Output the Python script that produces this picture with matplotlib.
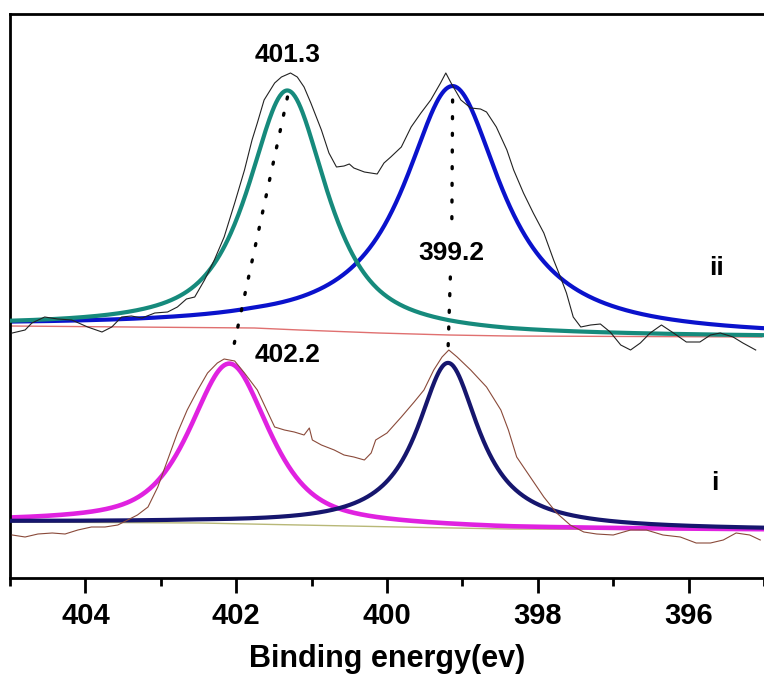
import numpy as np
import matplotlib
matplotlib.use("Agg")
import matplotlib.pyplot as plt
from matplotlib.ticker import MultipleLocator

plt.rcParams['font.family'] = ['Liberation Sans', 'DejaVu Sans']
plt.rcParams['font.weight'] = 'bold'

# ---------------- data (binding energy in eV, intensity in a.u.) ----------------
# spectrum ii (upper) raw
ii_energy = [404.97, 404.80, 404.71, 404.54, 404.37, 404.18, 403.97, 403.78, 403.65, 403.52,
             403.39, 403.25, 403.08, 402.91, 402.78, 402.66, 402.55, 402.42, 402.29, 402.16,
             402.02, 401.89, 401.79, 401.72, 401.63, 401.49, 401.40, 401.28, 401.19, 401.10,
             401.01, 400.87, 400.77, 400.67, 400.57, 400.50, 400.44, 400.30, 400.13, 400.04,
             399.95, 399.81, 399.68, 399.55, 399.42, 399.29, 399.22, 399.15, 399.02, 398.89,
             398.76, 398.68, 398.55, 398.41, 398.32, 398.19, 398.06, 397.92, 397.79, 397.70,
             397.62, 397.53, 397.43, 397.30, 397.17, 397.04, 396.90, 396.77, 396.64, 396.51,
             396.36, 396.20, 396.03, 395.85, 395.71, 395.58, 395.41, 395.28, 395.11]
ii_counts = [245, 248, 255, 261, 259, 258, 251, 246, 251, 261,
             262, 260, 265, 266, 271, 279, 281, 298, 318, 341,
             375, 408, 438, 455, 478, 495, 501, 505, 501, 491,
             475, 448, 425, 411, 412, 414, 410, 406, 404, 415,
             421, 431, 451, 465, 478, 495, 505, 495, 478, 470,
             469, 466, 451, 428, 408, 385, 365, 345, 318, 301,
             285, 261, 251, 253, 254, 246, 233, 228, 235, 245,
             253, 245, 236, 236, 243, 245, 241, 235, 228]
ii_bg_energy = [405.0, 403.41, 401.76, 401.16, 400.11, 399.18, 398.39, 395.03]
ii_bg_counts = [252, 251, 250, 248, 245, 243, 242, 241]

# spectrum i (lower) raw
i_energy = [404.97, 404.80, 404.63, 404.44, 404.27, 404.10, 403.92, 403.74, 403.57, 403.44,
            403.31, 403.17, 403.04, 402.91, 402.78, 402.65, 402.51, 402.38, 402.25, 402.16,
            402.02, 401.89, 401.72, 401.49, 401.36, 401.23, 401.10, 401.03, 400.99, 400.87,
            400.70, 400.57, 400.44, 400.30, 400.21, 400.15, 400.00, 399.81, 399.64, 399.51,
            399.38, 399.27, 399.18, 399.07, 398.89, 398.68, 398.49, 398.39, 398.28, 398.10,
            397.92, 397.75, 397.57, 397.39, 397.22, 397.00, 396.77, 396.56, 396.34, 396.11,
            395.90, 395.71, 395.54, 395.37, 395.19, 395.05]
i_counts = [43, 41, 44, 45, 44, 48, 51, 51, 53, 58,
            63, 71, 91, 118, 145, 168, 188, 205, 215, 219,
            217, 205, 188, 151, 148, 146, 143, 150, 138, 133,
            128, 123, 121, 118, 125, 138, 145, 161, 176, 188,
            208, 221, 228, 221, 208, 191, 168, 148, 121, 101,
            81, 65, 53, 46, 44, 43, 48, 48, 43, 41,
            35, 35, 38, 45, 43, 38]
i_bg_energy = [405.0, 402.49, 401.16, 399.84, 398.39, 395.03]
i_bg_counts = [56, 55, 53, 51, 49, 48]

# fitted components: centre (eV), height, half width (eV), Lorentzian fraction
ii_peak_centre = [401.32, 399.13]
ii_peak_height = [239, 249]
ii_peak_hwhm = [0.62, 0.79]
ii_peak_eta = [0.8, 1.0]

i_peak_centre = [402.09, 399.19]
i_peak_height = [160, 165]
i_peak_hwhm = [0.62, 0.50]
i_peak_eta = [0.65, 1.0]

peak_labels = ["401.3", "399.2", "402.2"]
spectrum_labels = ["ii", "i"]
x_ticks = [404, 402, 400, 398, 396]


def component(e, bg_e, bg_c, c, a, w, eta):
    bg = np.interp(e, bg_e[::-1], bg_c[::-1])
    u = ((e - c) / w) ** 2
    return bg + a * (eta / (1 + u) + (1 - eta) * np.exp(-np.log(2) * u))


fig = plt.figure(figsize=(7.64, 6.82), dpi=100)
ax = fig.add_axes([10 / 764, 104 / 682, 754 / 764, 564 / 682])

E = np.linspace(405.0, 395.0, 800)

# upper spectrum ii
ax.plot(ii_bg_energy, ii_bg_counts, color='#E07070', lw=1.0, zorder=1)
blue = component(E, np.array(ii_bg_energy), np.array(ii_bg_counts),
                 ii_peak_centre[1], ii_peak_height[1], ii_peak_hwhm[1], ii_peak_eta[1])
teal = component(E, np.array(ii_bg_energy), np.array(ii_bg_counts),
                 ii_peak_centre[0], ii_peak_height[0], ii_peak_hwhm[0], ii_peak_eta[0])
ax.plot(E, blue, color='#0A12CC', lw=3.0, zorder=2)
ax.plot(E, teal, color='#168A7C', lw=3.0, zorder=3)
ax.plot(ii_energy, ii_counts, color='#222222', lw=0.8, zorder=4)

# lower spectrum i
ax.plot(i_bg_energy, i_bg_counts, color='#B8B878', lw=1.0, zorder=1)
mag = component(E, np.array(i_bg_energy), np.array(i_bg_counts),
                i_peak_centre[0], i_peak_height[0], i_peak_hwhm[0], i_peak_eta[0])
navy = component(E, np.array(i_bg_energy), np.array(i_bg_counts),
                 i_peak_centre[1], i_peak_height[1], i_peak_hwhm[1], i_peak_eta[1])
ax.plot(E, mag, color='#E022E0', lw=3.3, zorder=2)
ax.plot(E, navy, color='#16166E', lw=3.0, zorder=3)
ax.plot(i_energy, i_counts, color='#8A4A3A', lw=0.8, zorder=4)

# dotted guide lines
dot = dict(color='black', lw=2.4, linestyle=(0, (0.6, 4.4)), dash_capstyle='round', zorder=5)
ax.plot([401.32, 402.05], [481, 226], **dot)
ax.plot([399.13, 399.14], [478, 356], **dot)
ax.plot([399.16, 399.19], [301, 229], **dot)

# text labels
tkw = dict(fontsize=19, fontweight='bold', ha='center', va='center')
ax.text(401.32, 523, peak_labels[0], **tkw)
ax.text(399.15, 325, peak_labels[1], **tkw)
ax.text(401.32, 223, peak_labels[2], **tkw)
ax.text(395.63, 310, spectrum_labels[0], **tkw)
ax.text(395.65, 95, spectrum_labels[1], **tkw)

ax.set_xlim(405.0, 395.0)
ax.set_ylim(0, 564)
ax.set_xticks(x_ticks)
ax.xaxis.set_minor_locator(MultipleLocator(1))
ax.set_yticks([])
ax.tick_params(axis='x', which='major', direction='out', length=11, width=2, pad=6,
               labelsize=21)
ax.tick_params(axis='x', which='minor', direction='out', length=6, width=2)
for lab in ax.get_xticklabels():
    lab.set_fontweight('bold')
for s in ['left', 'top', 'bottom']:
    ax.spines[s].set_linewidth(2.0)
ax.spines['right'].set_visible(False)
ax.set_xlabel('Binding energy(ev)', fontsize=22, fontweight='bold', labelpad=10)

fig.savefig('out.png', dpi=100)
